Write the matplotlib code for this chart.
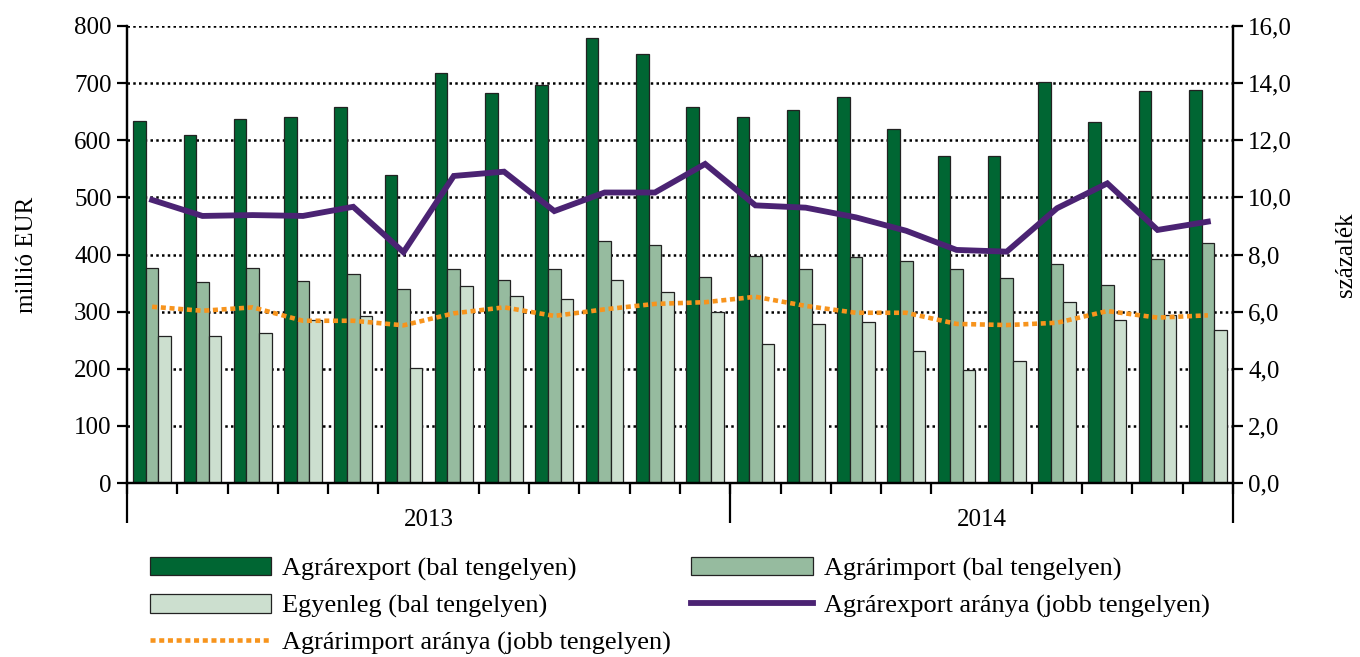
import numpy as np
import matplotlib
matplotlib.use('Agg')
import matplotlib.pyplot as plt
from matplotlib.ticker import FuncFormatter, FixedLocator

plt.rcParams['font.family'] = ['Liberation Serif', 'DejaVu Serif']
plt.rcParams['font.size'] = 18

# monthly data, 2013-01 .. 2014-10
years = ['2013', '2014']
months_per_year = [12, 10]
export = [634, 609, 637, 641, 658, 539, 718, 683, 697, 779, 751, 658,
          641, 653, 676, 620, 573, 573, 702, 632, 686, 688]
imports = [377, 351, 376, 354, 366, 339, 374, 355, 375, 423, 416, 360,
           398, 375, 396, 388, 375, 359, 384, 346, 392, 420]
balance = [258, 257, 262, 285, 292, 201, 344, 328, 322, 356, 335, 299,
           243, 279, 281, 231, 197, 214, 317, 286, 294, 267]
export_share = [9.91, 9.35, 9.38, 9.35, 9.67, 8.08, 10.75, 10.90, 9.52, 10.17, 10.17, 11.17,
                9.72, 9.64, 9.30, 8.83, 8.16, 8.10, 9.62, 10.49, 8.86, 9.15]
import_share = [6.17, 6.03, 6.15, 5.68, 5.68, 5.52, 5.94, 6.15, 5.85, 6.08, 6.27, 6.33,
                6.52, 6.20, 5.96, 5.96, 5.57, 5.53, 5.61, 6.02, 5.79, 5.87]

c_exp, c_imp, c_bal = '#006633', '#96BB9F', '#CCDFCF'
c_line1, c_line2 = '#4B2373', '#F7941D'

n = len(export)
x = np.arange(n)
w = 0.25

fig = plt.figure(figsize=(13.6, 6.57), dpi=100)
ax = fig.add_axes([127/1360, 1 - 483/657, (1233 - 127)/1360, (483 - 26)/657])
ax2 = ax.twinx()

ekw = dict(edgecolor='#222222', linewidth=0.9, zorder=2)
b1 = ax.bar(x - w, export, w, color=c_exp, label='Agrárexport (bal tengelyen)', **ekw)
b2 = ax.bar(x, imports, w, color=c_imp, label='Agrárimport (bal tengelyen)', **ekw)
b3 = ax.bar(x + w, balance, w, color=c_bal, label='Egyenleg (bal tengelyen)', **ekw)

l1, = ax2.plot(x, export_share, color=c_line1, lw=4.2, solid_joinstyle='miter',
               label='Agrárexport aránya (jobb tengelyen)')
l2, = ax2.plot(x, import_share, color=c_line2, lw=3.3, linestyle=(0, (1.1, 0.8)),
               label='Agrárimport aránya (jobb tengelyen)')

ax.set_xlim(-0.5, n - 0.5)
ax.set_ylim(0, 800)
ax2.set_ylim(0, 16)
ax.set_yticks(np.arange(0, 801, 100))
ax2.set_yticks(np.arange(0, 16.1, 2))
ax2.yaxis.set_major_formatter(FuncFormatter(lambda v, p: f'{v:.1f}'.replace('.', ',')))

ax.grid(axis='y', color='black', linestyle=(0, (1, 1.3)), linewidth=1.8)
ax.set_axisbelow(True)

for a in (ax, ax2):
    a.spines['top'].set_visible(False)
    for s in a.spines.values():
        s.set_linewidth(1.6)
ax.tick_params(axis='y', direction='out', length=7, width=1.6, pad=4)
ax2.tick_params(axis='y', direction='out', length=7, width=1.6, pad=4)

# year labels centred under each year, month boundaries as minor ticks
starts = np.cumsum([0] + months_per_year)
centers = [(starts[i] + starts[i + 1]) / 2 - 0.5 for i in range(len(years))]
ax.set_xticks(centers)
ax.set_xticklabels(years)
ax.tick_params(axis='x', which='major', length=0, pad=19)
ax.xaxis.set_minor_locator(FixedLocator(np.arange(n + 1) - 0.5))
ax.tick_params(axis='x', which='minor', direction='out', length=8, width=1.6)

sec = ax.secondary_xaxis('bottom')
sec.set_xticks(starts - 0.5)
sec.set_xticklabels([''] * len(starts))
sec.tick_params(length=29, width=1.6, direction='out')
sec.spines['bottom'].set_visible(False)

ax.set_ylabel('millió EUR', labelpad=26)
ax2.set_ylabel('százalék', labelpad=31)

handles = [b1, b3, l2, b2, l1]
fig.legend(handles, [h.get_label() for h in handles], ncol=2, frameon=False,
           loc='upper left', bbox_to_anchor=(150/1360, 1 - 557/657),
           handlelength=4.6, handletextpad=0.42, columnspacing=0.75,
           labelspacing=0.5, borderpad=0, borderaxespad=0, handleheight=0.7,
           prop={'size': 19})

fig.savefig('out.png', dpi=100)
